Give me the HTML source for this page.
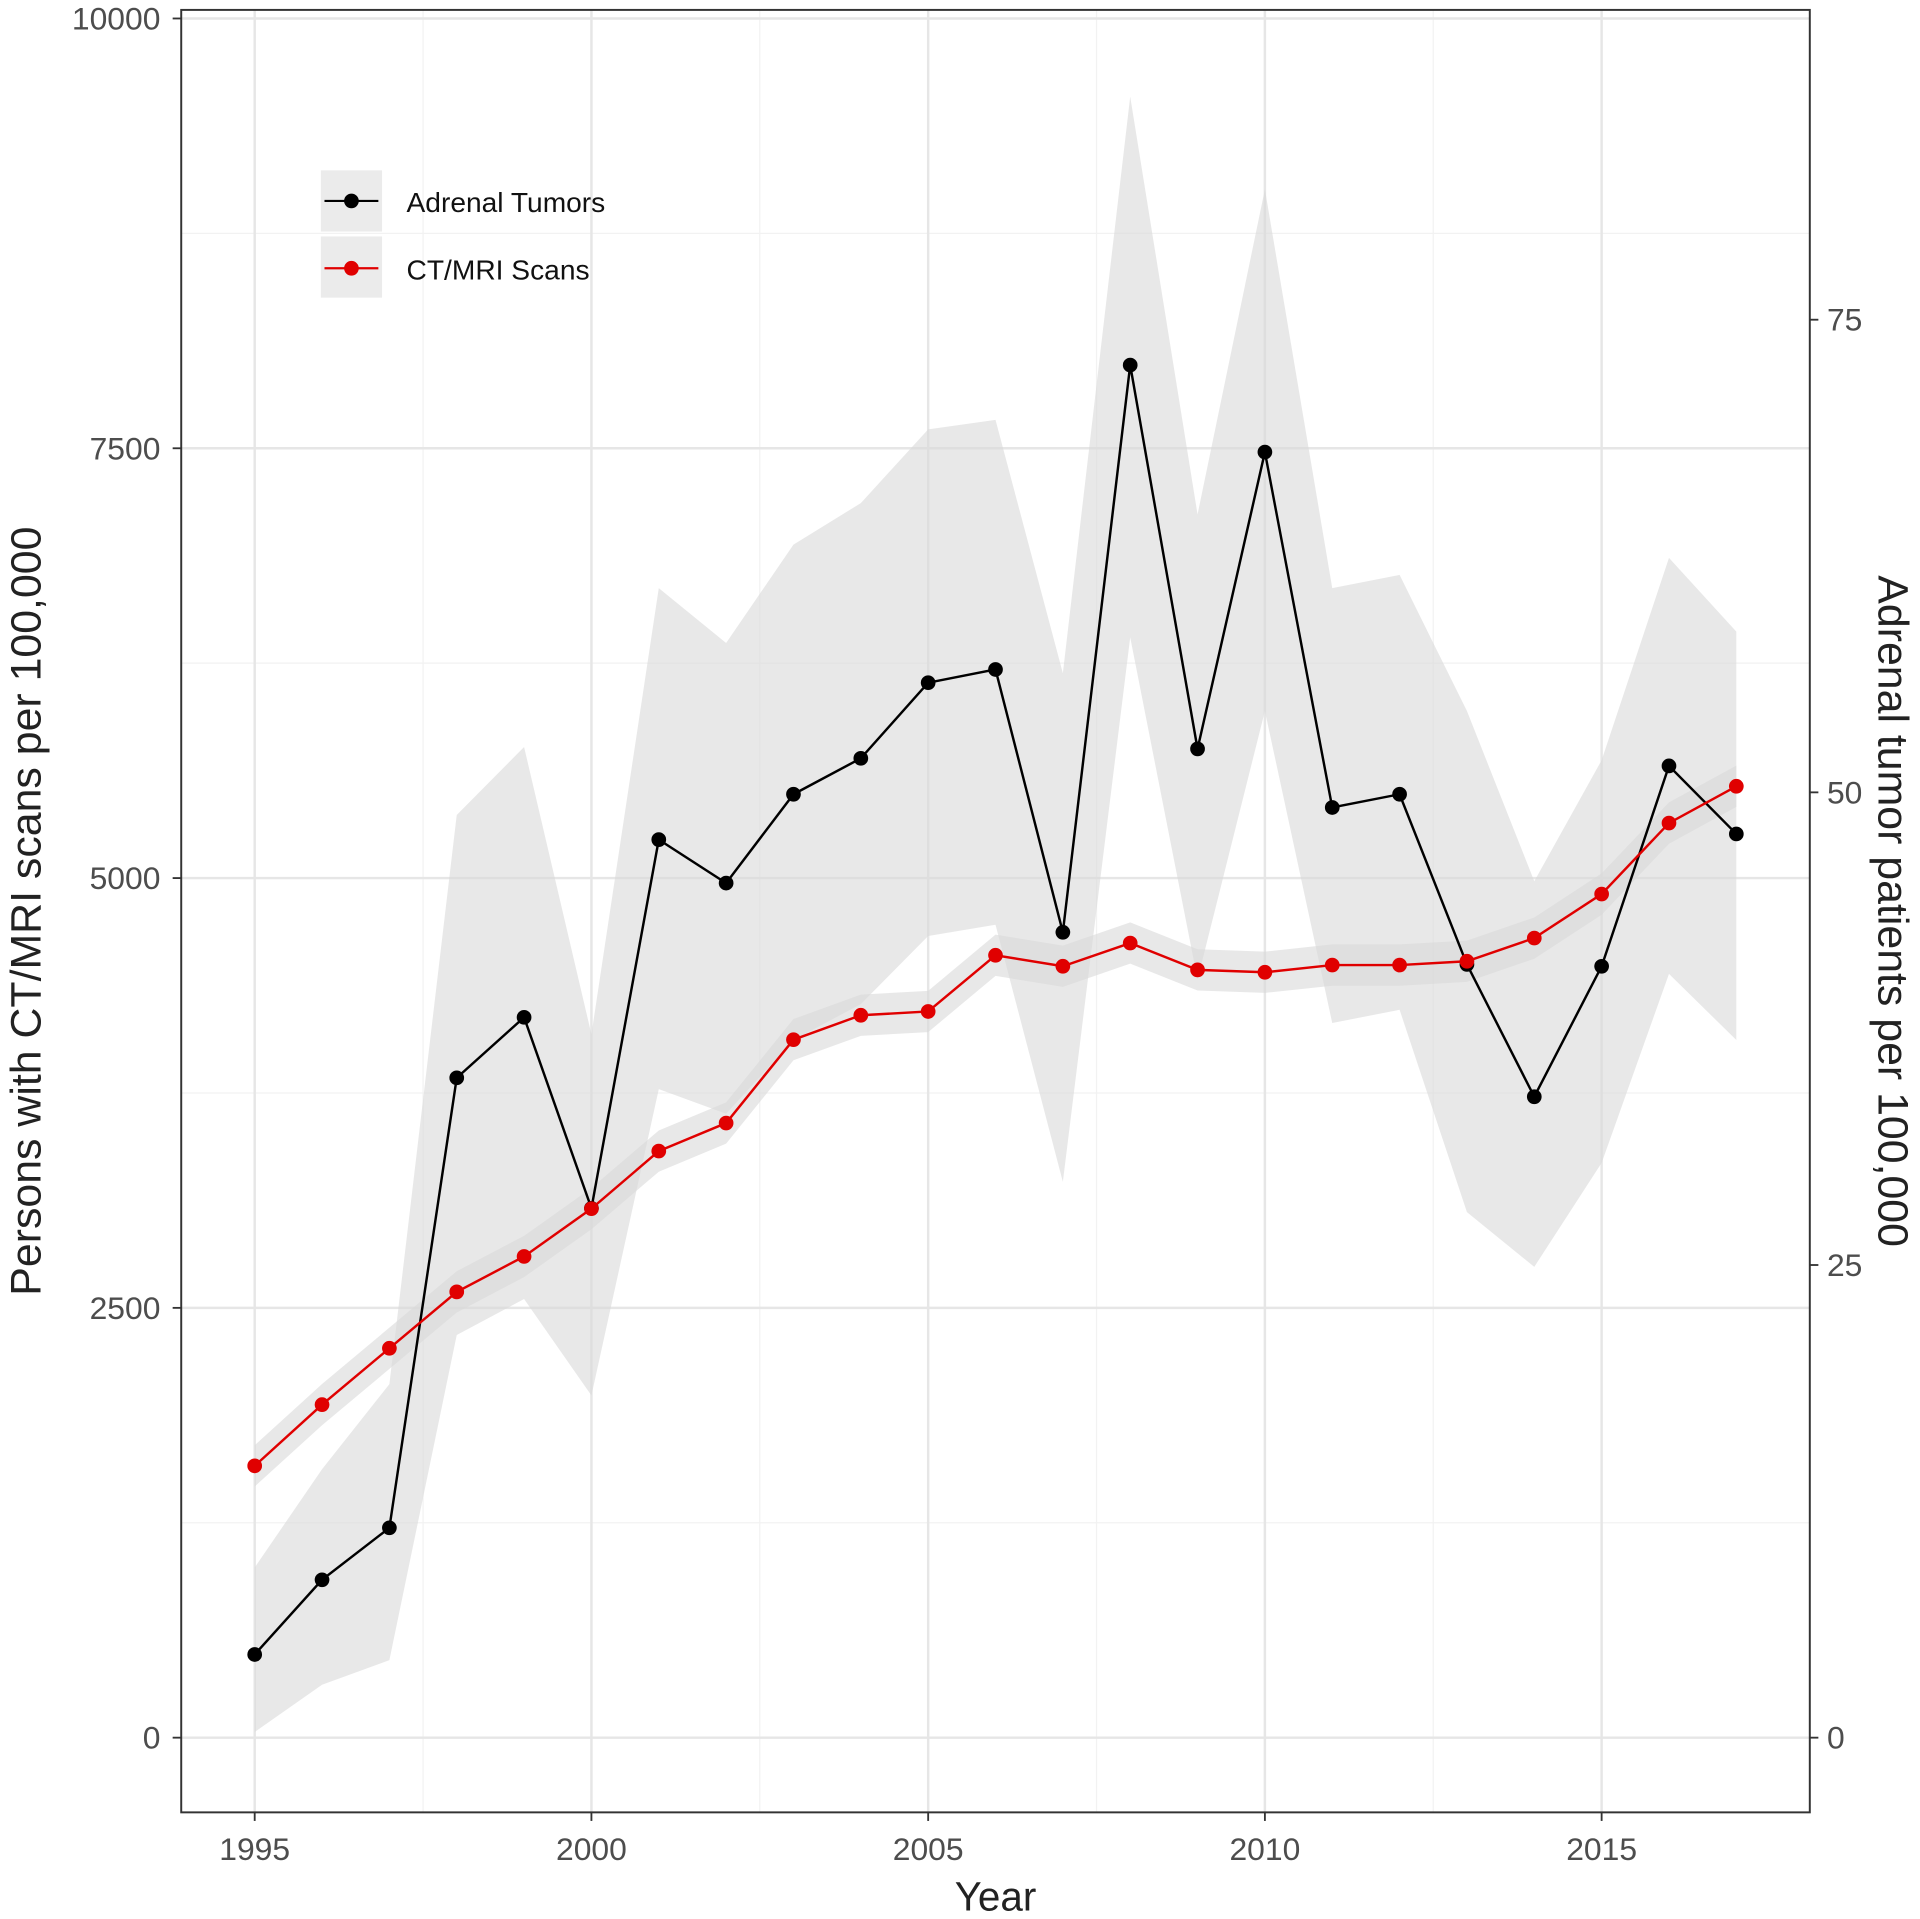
<!DOCTYPE html>
<html><head><meta charset="utf-8"><style>
html,body{margin:0;padding:0;background:#fff;}
svg{display:block;font-family:"Liberation Sans",sans-serif;}
</style></head><body>
<svg id="chart" width="1920" height="1919" viewBox="0 0 1568 1567" xmlns="http://www.w3.org/2000/svg">
<g id="grid"></g>
<g id="bands"></g>
<g id="lines"></g>
<rect x="148" y="8" width="1330" height="1472" fill="none" stroke="#333" stroke-width="1.6"/>
<g id="axes"></g>
<text x="813" y="1560" font-size="33" text-anchor="middle" fill="#222">Year</text>
<text transform="translate(33,744) rotate(-90)" font-size="35" text-anchor="middle" fill="#222">Persons with CT/MRI scans per 100,000</text>
<text transform="translate(1534,744) rotate(90)" font-size="35" text-anchor="middle" fill="#222">Adrenal tumor patients per 100,000</text>
<g>
<rect x="262" y="139" width="50" height="50" fill="#ebebeb"/>
<line x1="265" y1="164" x2="309" y2="164" stroke="#000" stroke-width="1.8"/>
<circle cx="287" cy="164" r="6" fill="#000"/>
<text x="332" y="173" font-size="23" fill="#111">Adrenal Tumors</text>
<rect x="262" y="193" width="50" height="50" fill="#ebebeb"/>
<line x1="265" y1="219" x2="309" y2="219" stroke="#e00000" stroke-width="1.8"/>
<circle cx="287" cy="219" r="6" fill="#e00000"/>
<text x="332" y="228" font-size="23" fill="#111">CT/MRI Scans</text>
</g>
</svg>
<script>
const years=[1995,1996,1997,1998,1999,2000,2001,2002,2003,2004,2005,2006,2007,2008,2009,2010,2011,2012,2013,2014,2015,2016,2017];
const scans=[1581,1937,2265,2593,2799,3077,3412,3575,4060,4202,4224,4551,4487,4622,4466,4452,4494,4494,4516,4651,4907,5320,5534];
const scansBand=120;
const tumors=[4.4,8.35,11.1,34.9,38.1,28.0,47.5,45.2,49.9,51.8,55.8,56.5,42.6,72.6,52.3,68.0,49.2,49.9,40.9,33.9,40.8,51.4,47.8];
const tumorsUpper=[9.0,14.2,18.7,48.8,52.4,37.2,60.8,57.9,63.1,65.3,69.2,69.7,56.3,86.8,64.7,81.9,60.8,61.5,54.3,45.3,51.7,62.4,58.5];
const tumorsLower=[0.3,2.8,4.1,21.3,23.2,18.1,34.3,33.0,36.9,38.8,42.4,43.0,29.4,58.2,40.1,54.3,37.8,38.5,27.8,24.9,30.4,40.4,36.9];
const leftTicks=[0,2500,5000,7500,10000];
const leftMinor=[1250,3750,6250,8750];
const rightTicks=[0,25,50,75];
const xTicks=[1995,2000,2005,2010,2015];
const xMinor=[1997.5,2002.5,2007.5,2012.5];

const NS="http://www.w3.org/2000/svg";
const X=v=>208+(v-1995)*(1308-208)/20;
const YL=v=>1419-v*(1419-15)/10000;
const YR=v=>1419-v*(1419-647)/50;
function mk(tag,attrs,parent){const e=document.createElementNS(NS,tag);for(const k in attrs)e.setAttribute(k,attrs[k]);parent.appendChild(e);return e;}
const grid=document.getElementById('grid'),bands=document.getElementById('bands'),lines=document.getElementById('lines'),axes=document.getElementById('axes');
mk('rect',{x:148,y:8,width:1330,height:1472,fill:'#fff'},grid);
leftMinor.forEach(v=>{const l=mk('line',{x1:148,x2:1478,y1:YL(v),y2:YL(v),stroke:'#f2f2f2','stroke-width':1},grid);});
xMinor.forEach(v=>{const l=mk('line',{x1:X(v),x2:X(v),y1:8,y2:1480,stroke:'#f2f2f2','stroke-width':1},grid);});
leftTicks.forEach(v=>{const l=mk('line',{x1:148,x2:1478,y1:YL(v),y2:YL(v),stroke:'#e6e6e6','stroke-width':2},grid);});
xTicks.forEach(v=>{const l=mk('line',{x1:X(v),x2:X(v),y1:8,y2:1480,stroke:'#e6e6e6','stroke-width':2},grid);});
function bandPath(up,lo,Y){let d='';years.forEach((y,i)=>d+=(i?'L':'M')+X(y)+','+Y(up[i]));for(let i=years.length-1;i>=0;i--)d+='L'+X(years[i])+','+Y(lo[i]);return d+'Z';}
const b1=mk('path',{d:bandPath(tumorsUpper,tumorsLower,YR),fill:'#d9d9d9','fill-opacity':0.6},bands);


const b2=mk('path',{d:bandPath(scans.map(v=>v+scansBand),scans.map(v=>v-scansBand),YL),fill:'#d9d9d9','fill-opacity':0.6},bands);


function series(vals,Y,color,name){
const p=mk('polyline',{points:years.map((y,i)=>X(y)+','+Y(vals[i])).join(' '),fill:'none',stroke:color,'stroke-width':2},lines);


years.forEach((y,i)=>{const c=mk('circle',{cx:X(y),cy:Y(vals[i]),r:6,fill:color},lines);

});
}
series(tumors,YR,'#000','adrenal-tumors');
series(scans,YL,'#e00000','ctmri-scans');
leftTicks.forEach(v=>{mk('line',{x1:141,x2:148,y1:YL(v),y2:YL(v),stroke:'#333','stroke-width':1.5},axes);
const t=mk('text',{x:131,y:YL(v)+9,'font-size':26,'text-anchor':'end',fill:'#4d4d4d'},axes);t.textContent=v;

});
rightTicks.forEach(v=>{mk('line',{x1:1478,x2:1485,y1:YR(v),y2:YR(v),stroke:'#333','stroke-width':1.5},axes);
const t=mk('text',{x:1492,y:YR(v)+9,'font-size':26,'text-anchor':'start',fill:'#4d4d4d'},axes);t.textContent=v;

});
xTicks.forEach(v=>{mk('line',{x1:X(v),x2:X(v),y1:1480,y2:1487,stroke:'#333','stroke-width':1.5},axes);
const t=mk('text',{x:X(v),y:1519,'font-size':26,'text-anchor':'middle',fill:'#4d4d4d'},axes);t.textContent=v;

});
</script>
</body></html>
